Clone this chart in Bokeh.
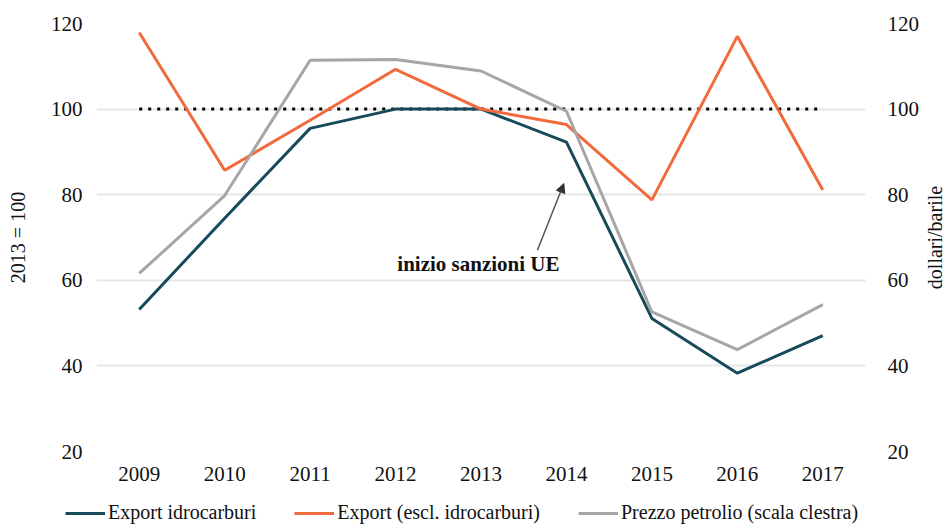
import math
from bokeh.plotting import figure
from bokeh.layouts import row, column
from bokeh.models import (Range1d, LinearAxis, FixedTicker, Legend, LegendItem,
                          Arrow, NormalHead, Label)
from bokeh.embed import file_html
from bokeh.resources import INLINE

# ---- data ----
years = [2009, 2010, 2011, 2012, 2013, 2014, 2015, 2016, 2017]
export_idrocarburi = [53.2, 74.5, 95.5, 100.0, 100.0, 92.3, 51.1, 38.3, 47.1]
export_escl_idrocarburi = [117.9, 85.7, 97.4, 109.3, 100.0, 96.4, 78.8, 117.0, 81.1]
prezzo_petrolio = [61.6, 79.8, 111.4, 111.6, 108.9, 99.5, 52.6, 43.8, 54.3]
base_2013 = [100, 100, 100, 100, 100, 100, 100, 100, 100]
y_ticks = [20, 40, 60, 80, 100, 120]

series_names = ["Export idrocarburi", "Export (escl. idrocarburi)",
                "Prezzo petrolio (scala clestra)"]
annotation_text = "inizio sanzioni UE"
left_title = "2013 = 100"
right_title = "dollari/barile"

FONT = "Liberation Serif"
TICK_FS = "21px"
FS = "20px"
TEAL = "#174b5c"
ORANGE = "#f06a3c"
GREY = "#a6a6a6"
TXT = "#111111"

# ---------------- main chart ----------------
p = figure(width=922, height=491,
           x_range=Range1d(years[0] - 0.5, years[-1] + 0.5),
           y_range=Range1d(20, 120),
           output_backend="svg", toolbar_location=None,
           min_border_left=96, min_border_right=57,
           min_border_top=23, min_border_bottom=40)
p.extra_y_ranges = {"price": Range1d(20, 120)}
p.outline_line_color = None
p.background_fill_color = "white"
p.border_fill_color = "white"

right = LinearAxis(y_range_name="price")
p.add_layout(right, "right")

p.xaxis.ticker = FixedTicker(ticks=years)
p.yaxis.ticker = FixedTicker(ticks=y_ticks)
right.ticker = FixedTicker(ticks=y_ticks)
for ax in [p.xaxis[0], p.yaxis[0], right]:
    ax.axis_line_color = None
    ax.major_tick_line_color = None
    ax.minor_tick_line_color = None
    ax.major_tick_out = 0
    ax.major_tick_in = 0
    ax.major_label_text_font = FONT
    ax.major_label_text_font_size = TICK_FS
    ax.major_label_text_color = TXT
p.xaxis[0].major_label_standoff = 15
p.yaxis[0].major_label_standoff = 14
right.major_label_standoff = 22

p.yaxis[0].axis_label = left_title
p.yaxis[0].axis_label_text_font = FONT
p.yaxis[0].axis_label_text_font_size = FS
p.yaxis[0].axis_label_text_font_style = "normal"
p.yaxis[0].axis_label_text_color = TXT
p.yaxis[0].axis_label_standoff = 19

p.xgrid.grid_line_color = None
p.ygrid.grid_line_color = "#e6e6e6"
p.ygrid.grid_line_width = 2

# baseline
p.line(years, base_2013, line_color="black", line_width=3, line_dash="3 6")

p.line(years, export_idrocarburi, line_color=TEAL, line_width=3)
p.line(years, export_escl_idrocarburi, line_color=ORANGE, line_width=3)
p.line(years, prezzo_petrolio, line_color=GREY, line_width=3, y_range_name="price")

# annotation
p.add_layout(Arrow(end=NormalHead(size=9, fill_color="#333333", line_color="#333333"),
                   x_start=2013.66, y_start=67.0, x_end=2013.97, y_end=82.6,
                   line_color="#555555", line_width=1.5))
p.add_layout(Label(x=2012.97, y=63.7, text=annotation_text, text_font=FONT,
                   text_font_size="21px", text_font_style="bold",
                   text_align="center", text_baseline="middle",
                   text_color=TXT))

# ---------------- right-hand axis title (reads bottom-to-top) ----------------
rt = figure(width=25, height=491, x_range=Range1d(0, 1), y_range=p.y_range,
            output_backend="svg", toolbar_location=None,
            x_axis_location=None, y_axis_location=None,
            min_border_left=0, min_border_right=0,
            min_border_top=23, min_border_bottom=40)
rt.outline_line_color = None
rt.grid.grid_line_color = None
rt.background_fill_color = "white"
rt.border_fill_color = "white"
rt.add_layout(Label(x=0.5, y=70, text=right_title, angle=math.pi / 2,
                    text_font=FONT, text_font_size=FS, text_color=TXT,
                    text_align="center", text_baseline="middle"))

# ---------------- legend strip ----------------
# the strip's ranges lie far from the data, so its lines are clipped away and
# only serve as legend keys
lg = figure(width=947, height=34, x_range=Range1d(0, 1), y_range=Range1d(0, 1),
            output_backend="svg", toolbar_location=None,
            x_axis_location=None, y_axis_location=None,
            min_border=0, min_border_left=0, min_border_right=0,
            min_border_top=0, min_border_bottom=0)
lg.outline_line_color = None
lg.grid.grid_line_color = None
lg.background_fill_color = "white"
lg.border_fill_color = "white"
k1 = lg.line(years, export_idrocarburi, line_color=TEAL, line_width=3)
k2 = lg.line(years, export_escl_idrocarburi, line_color=ORANGE, line_width=3)
k3 = lg.line(years, prezzo_petrolio, line_color=GREY, line_width=3)
legend = Legend(items=[LegendItem(label=series_names[0], renderers=[k1]),
                       LegendItem(label=series_names[1], renderers=[k2]),
                       LegendItem(label=series_names[2], renderers=[k3])],
                orientation="horizontal", location=(65, 1),
                padding=0, margin=0, spacing=38, label_standoff=3,
                glyph_width=40, glyph_height=20, label_height=20,
                label_text_font=FONT, label_text_font_size=FS,
                label_text_color=TXT,
                border_line_color=None, background_fill_alpha=0)
lg.add_layout(legend, "center")

layout = column(row(p, rt, spacing=0), lg, spacing=0)
open("out.html", "w").write(file_html(layout, INLINE))
